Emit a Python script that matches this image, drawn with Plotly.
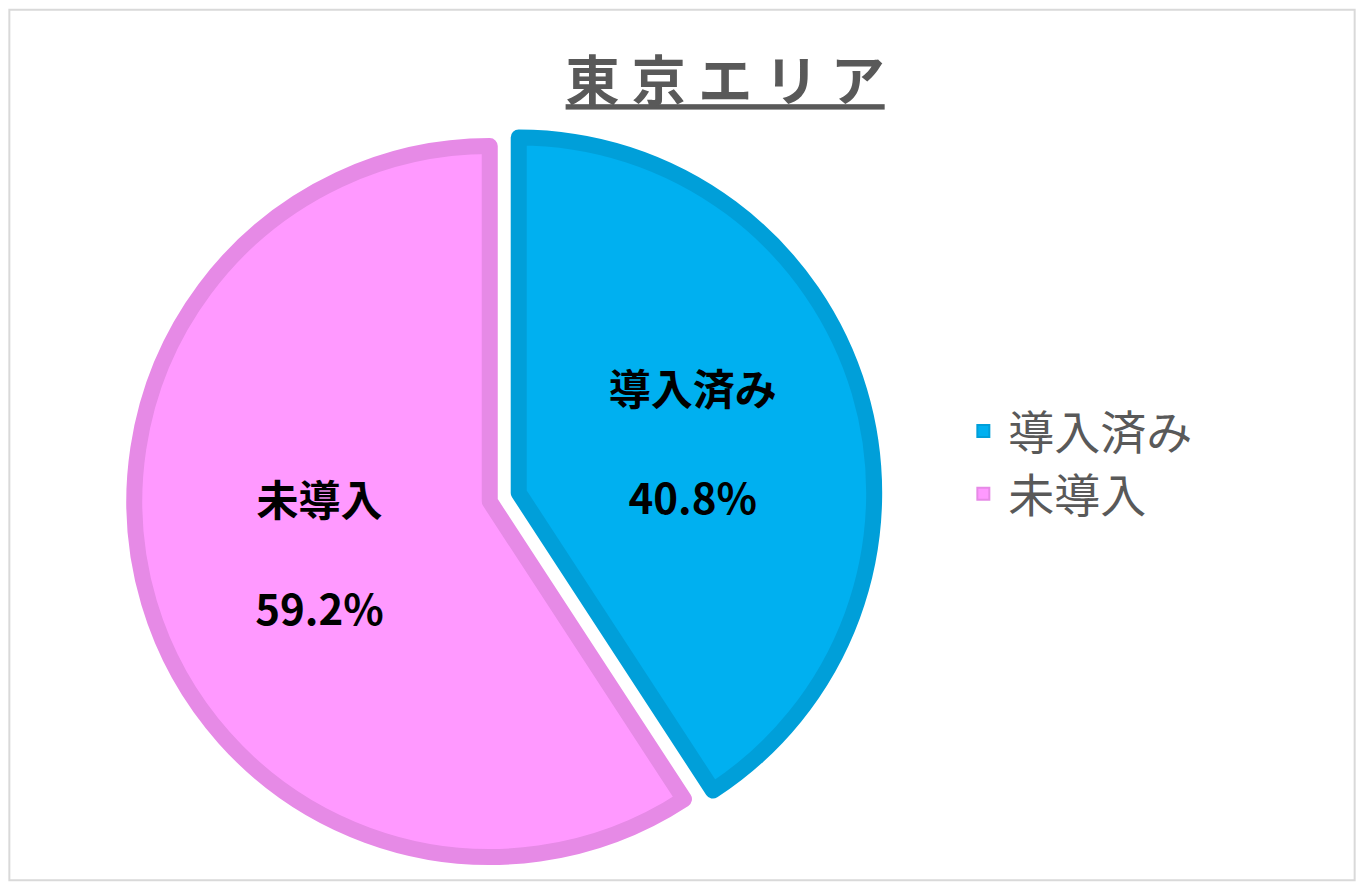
import plotly.graph_objects as go

labels = ["導入済み", "未導入"]
values = [40.8, 59.2]
colors = ["#00B0F0", "#FF99FF"]
line_colors = ["#009FD9", "#E68AE6"]
title_text = "東京エリア"

FONT = "Noto Sans CJK JP"

fig = go.Figure(go.Pie(
    labels=labels, values=values, sort=False, direction="clockwise", rotation=0,
    marker=dict(colors=colors, line=dict(color=line_colors, width=16)),
    pull=[0.045, 0.04],
    texttemplate="%{label}<br> <br>%{percent:.1%}",
    textposition="inside", insidetextorientation="horizontal",
    textfont=dict(family=FONT, size=42, color="black", weight="bold"),
    domain=dict(x=[0.075, 0.66], y=[0.015, 0.865]),
    hoverinfo="label+percent",
))
fig.update_layout(
    title=dict(text="<u>東 京 エ リ ア</u>", x=0.532, xanchor="center", y=0.915, yanchor="middle",
               font=dict(family=FONT, size=54, color="#595959", weight="bold")),
    legend=dict(x=0.705, y=0.48, yanchor="middle", font=dict(family=FONT, size=46, color="#595959"),
                itemsizing="constant", itemwidth=40),
    margin=dict(l=0, r=0, t=0, b=0),
    paper_bgcolor="white",
    shapes=[dict(type="rect", xref="paper", yref="paper", x0=0.001, x1=0.999, y0=0.002, y1=0.998,
                 line=dict(color="#D9D9D9", width=2))],
)
fig.write_html("out.html")
